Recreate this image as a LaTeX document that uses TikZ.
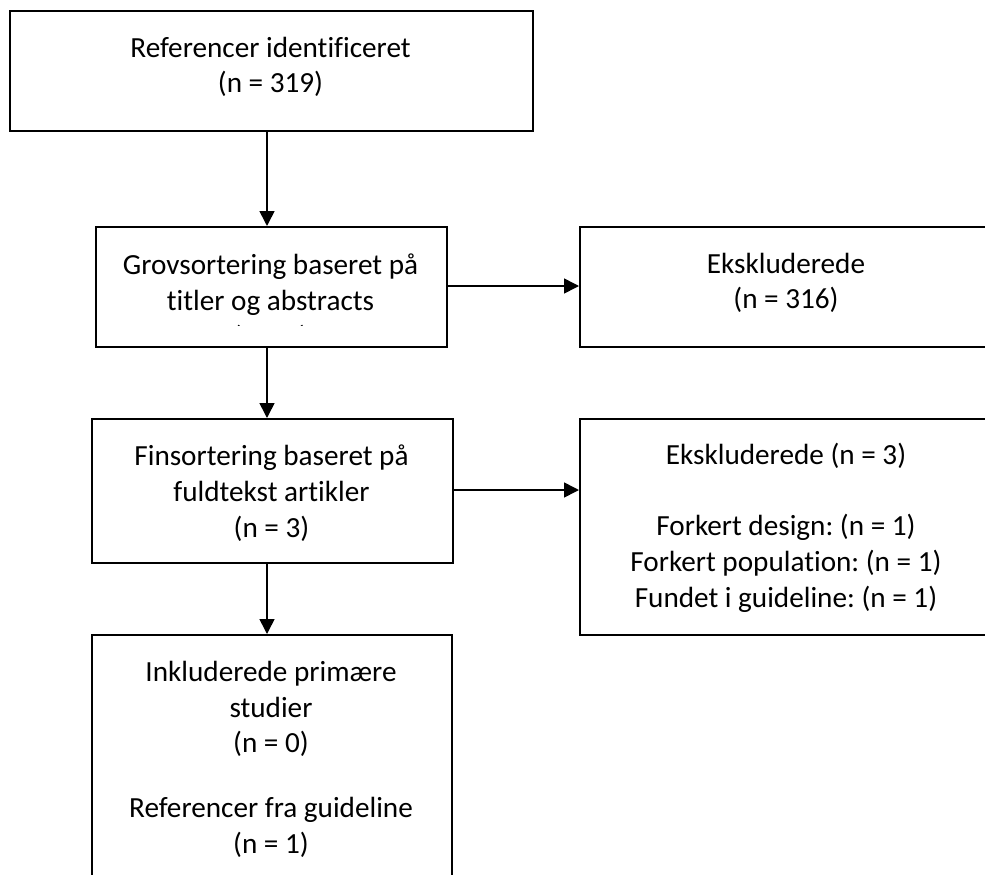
\documentclass[tikz,border=0pt]{standalone}
\usepackage{fontspec}
\setmainfont{Carlito}[Ligatures=NoCommon]
\frenchspacing
\usetikzlibrary{arrows.meta}
\tikzset{
  box/.style={draw=black, line width=2bp, rectangle, inner sep=0pt, anchor=north west},
  txt/.style={align=center, inner sep=0pt, font=\fontsize{29.2bp}{35.8bp}\selectfont\frenchspacing, anchor=base},
  conn/.style={draw=black, line width=1.6bp, -{Triangle[length=15bp,width=15bp]}}
}
\begin{document}
\begin{tikzpicture}[x=1bp, y=-1bp]
\useasboundingbox (0,0) rectangle (985,875);
% boxes
\node[box, minimum width=523bp, minimum height=120bp] (b1) at (9,10) {};
\node[box, minimum width=351bp, minimum height=120bp] (b2) at (95,226) {};
\node[box, minimum width=414bp, minimum height=120bp] (e1) at (579,226) {};
\node[box, minimum width=361bp, minimum height=144bp] (b3) at (91,418) {};
\node[box, minimum width=414bp, minimum height=216bp] (e2) at (579,418) {};
\node[box, minimum width=360bp, minimum height=280bp] (b5) at (91,634) {};
% texts (anchor base = baseline of the last line)
\node[txt] (t1) at (270.5,92.8) {Referencer identificeret\\(n = 319)};
\node[txt] (t2) at (270.5,310) {Grovsortering baseret på\\titler og abstracts};
\begin{scope}
\clip (95,228) rectangle (446,325.2);
\node[txt] (t2c) at (270.5,346.5) {(n = 3)};
\end{scope}
\node[txt] (te1) at (786,308.8) {Ekskluderede\\(n = 316)};
\node[txt] (t3) at (271.5,537) {Finsortering baseret på\\fuldtekst artikler\\(n = 3)};
\node[txt] (te2) at (786,607.5) {Ekskluderede (n = 3)\\[35.8bp]Forkert design: (n = 1)\\Forkert population: (n = 1)\\Fundet i guideline: (n = 1)};
\node[txt] (t5) at (271,853.5) {Inkluderede primære\\studier\\(n = 0)\\[29bp]Referencer fra guideline\\(n = 1)};
% connectors
\coordinate (a1s) at (267,130);
\coordinate (a1e) at (267,226);
\draw[conn] (a1s) -- (a1e);
\coordinate (a2s) at (267,346);
\coordinate (a2e) at (267,418);
\draw[conn] (a2s) -- (a2e);
\coordinate (a3s) at (267,562);
\coordinate (a3e) at (267,634);
\draw[conn] (a3s) -- (a3e);
\draw[conn] (b2.east |- 0,286) -- (e1.west |- 0,286);
\draw[conn] (b3.east |- 0,490) -- (e2.west |- 0,490);
\end{tikzpicture}
\end{document}
